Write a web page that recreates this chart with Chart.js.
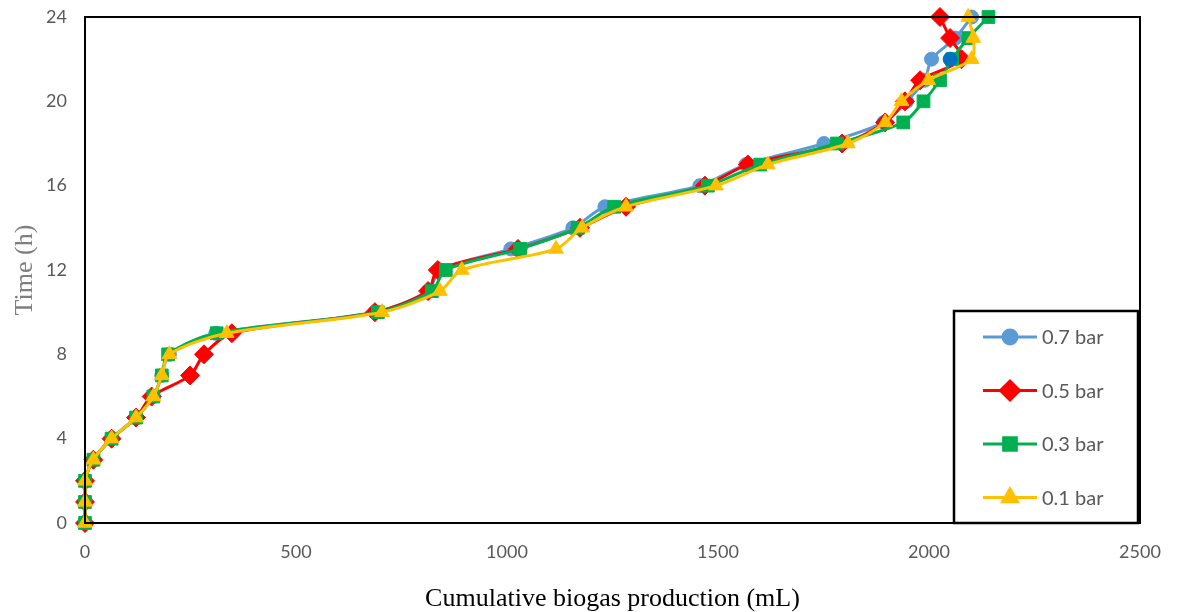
<!DOCTYPE html>
<html lang="en">

<head>
  <meta charset="UTF-8" />
  <title>Cumulative biogas production</title>
  <script src="https://cdn.jsdelivr.net/npm/chart.js"></script>
  <style>
    body { margin: 0; background: #fff; }
    #wrap { width: 1179px; height: 612px; }
  </style>
</head>

<body>
  <div id="wrap"><canvas id="myChart" width="1179" height="612"></canvas></div>

  <script>
    /* data */
    const hours = [0, 1, 2, 3, 4, 5, 6, 7, 8, 9, 10, 11, 12, 13, 14, 15, 16, 17, 18, 19, 20, 21, 22, 23, 24];
    const bar07 = [0, 0, 0, 20, 63, 121, 162, 182, 200, 310, 687, 813, 841, 1009, 1156, 1232, 1457, 1566, 1751, 1893, 1947, 1990, 2006, 2062, 2101];
    const bar05 = [0, 0, 0, 20, 63, 121, 158, 249, 282, 348, 687, 813, 836, 1026, 1173, 1282, 1469, 1571, 1794, 1896, 1943, 1979, 2077, 2050, 2026];
    const bar03 = [0, 0, 0, 20, 63, 121, 162, 182, 197, 312, 694, 822, 855, 1031, 1168, 1254, 1476, 1600, 1782, 1939, 1987, 2026, 2055, 2093, 2141];
    const bar01 = [0, 0, 0, 20, 63, 121, 162, 182, 200, 336, 704, 841, 893, 1116, 1178, 1282, 1495, 1618, 1808, 1896, 1935, 1998, 2101, 2105, 2093];
    // one highlighted point (darker blue) near the top
    const markX = [2050];
    const markY = [22];

    const xTicks = [0, 500, 1000, 1500, 2000, 2500];
    const yTicks = [0, 4, 8, 12, 16, 20, 24];

    const toPts = (xs, ys) => xs.map((v, i) => ({ x: v, y: ys[i] }));

    function series(label, vals, color, style, radius, order) {
      return {
        label: label,
        data: toPts(vals, hours),
        showLine: true,
        clip: false,
        borderColor: color,
        backgroundColor: color,
        borderWidth: 3,
        tension: 0.3,
        pointStyle: style,
        pointRadius: radius,
        pointBorderWidth: 1,
        pointBorderColor: color,
        pointBackgroundColor: color,
        order: order,
      };
    }

    // boxed legend drawn inside the plot, bottom-right
    const boxLegend = {
      id: "boxLegend",
      afterDraw(chart) {
        const c = chart.ctx;
        const a = chart.chartArea;
        // frame round the plot area
        c.save();
        c.strokeStyle = "#000";
        c.lineWidth = 2;
        c.strokeRect(a.left, a.top, a.right - a.left, a.bottom - a.top);

        const x0 = a.right - 186, y0 = a.bottom - 212;
        c.fillStyle = "#fff";
        c.fillRect(x0, y0, 184, 212);
        c.lineWidth = 2.5;
        c.strokeRect(x0, y0, 184, 212);

        const items = chart.data.datasets.filter((d) => d.label);
        items.forEach((d, i) => {
          const cy = y0 + 26 + i * 53.5;
          c.strokeStyle = d.borderColor;
          c.lineWidth = 3;
          c.beginPath();
          c.moveTo(x0 + 29, cy);
          c.lineTo(x0 + 83, cy);
          c.stroke();
          c.fillStyle = d.borderColor;
          Chart.helpers.drawPoint(c, {
            pointStyle: d.pointStyle,
            radius: d.pointRadius,
            rotation: 0,
            borderWidth: 1,
          }, x0 + 56, cy);
          c.fillStyle = "#595959";
          c.font = "20px Lato, 'Noto Sans', sans-serif";
          c.textBaseline = "middle";
          c.textAlign = "left";
          c.fillText(d.label, x0 + 88, cy + 1);
        });
        c.restore();
      },
    };

    const ctx = document.getElementById("myChart").getContext("2d");
    const chart = new Chart(ctx, {
      type: "scatter",
      data: {
        datasets: [
          series("0.7 bar", bar07, "#5B9BD5", "circle", 7, 4),
          series("0.5 bar", bar05, "#FF0000", "rectRot", 9.5, 3),
          series("0.3 bar", bar03, "#00B050", "rect", 9, 2),
          series("0.1 bar", bar01, "#FFC000", "triangle", 8.5, 1),
          {
            label: "",
            data: toPts(markX, markY),
            clip: false,
            pointStyle: "circle",
            pointRadius: 7,
            pointBorderWidth: 1,
            pointBorderColor: "#0070C0",
            pointBackgroundColor: "#0070C0",
            order: 0,
          },
        ],
      },
      options: {
        animation: false,
        responsive: false,
        layout: { padding: { left: 0, top: 17, right: 39, bottom: 0 } },
        plugins: {
          legend: { display: false },
          tooltip: { enabled: false },
        },
        scales: {
          x: {
            type: "linear",
            min: 0,
            max: 2500,
            afterBuildTicks: (s) => { s.ticks = xTicks.map((v) => ({ value: v })); },
            afterFit: (s) => { s.height = 89; s.paddingLeft = 0; s.paddingRight = 0; },
            grid: { display: false, drawTicks: false },
            border: { display: false },
            ticks: {
              padding: 18,
              color: "#595959",
              font: { family: "Lato, 'Noto Sans', sans-serif", size: 18 },
              callback: (v) => String(v),
            },
            title: {
              display: true,
              text: "Cumulative biogas production (mL)",
              color: "#000",
              font: { family: "'Liberation Serif', 'DejaVu Serif', serif", size: 26, lineHeight: 1 },
              padding: { top: 0, bottom: 0 },
            },
          },
          y: {
            type: "linear",
            min: 0,
            max: 24,
            afterBuildTicks: (s) => { s.ticks = yTicks.map((v) => ({ value: v })); },
            afterFit: (s) => { s.width = 85; s.paddingTop = 0; s.paddingBottom = 0; },
            grid: { display: false, drawTicks: false },
            border: { display: false },
            ticks: {
              padding: 18,
              color: "#595959",
              font: { family: "Lato, 'Noto Sans', sans-serif", size: 18 },
              callback: (v) => String(v),
            },
            title: {
              display: true,
              text: "Time (h)",
              color: "#7F7F7F",
              font: { family: "'Liberation Serif', 'DejaVu Serif', serif", size: 26 },
              padding: { top: 10, bottom: 0 },
            },
          },
        },
      },
      plugins: [boxLegend],
    });
  </script>
</body>

</html>
